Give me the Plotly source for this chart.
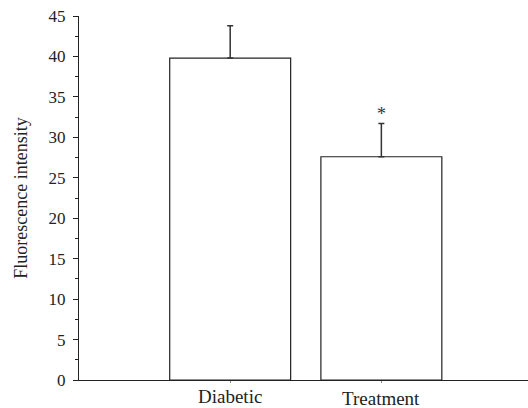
import plotly.graph_objects as go

categories = ["Diabetic", "Treatment"]
values = [39.8, 27.6]
errors = [4.0, 4.1]
sig_marks = ["", "*"]

FONT = "Liberation Serif"
xpos = list(range(len(categories)))

fig = go.Figure()
fig.add_trace(go.Bar(
    x=xpos, y=values, width=0.8,
    marker=dict(color="white", line=dict(color="#222222", width=1.2)),
    error_y=dict(type="data", array=errors, arrayminus=[0]*len(errors),
                 symmetric=False, color="#333333", thickness=1.5, width=3),
    showlegend=False,
))

for i, (c, v, e, s) in enumerate(zip(categories, values, errors, sig_marks)):
    fig.add_annotation(x=i, y=0, xref="x", yref="y", text=c, showarrow=False,
                       yanchor="top", yshift=-(4 + 2*i),
                       font=dict(family=FONT, size=19, color="#222222"))
    if s:
        fig.add_annotation(x=i, y=v + e, text=s, showarrow=False,
                           yanchor="bottom", yshift=-2,
                           font=dict(family=FONT, size=18, color="#333333"))

fig.update_layout(
    width=528, height=408,
    margin=dict(l=79, r=0, t=16, b=28),
    paper_bgcolor="white", plot_bgcolor="white",
    font=dict(family=FONT, size=16, color="#222222"),
    xaxis=dict(range=[-1.0, 1.97], showticklabels=False, showgrid=False,
               zeroline=False, showline=True, linecolor="#222222", linewidth=1.2,
               tickmode="array", tickvals=xpos, ticks="outside", ticklen=2,
               tickcolor="#888888"),
    yaxis=dict(range=[0, 45], tickmode="linear", tick0=0, dtick=5,
               showgrid=False, zeroline=False, showline=True,
               linecolor="#222222", linewidth=1.2,
               ticks="outside", ticklen=5, tickcolor="#222222",
               minor=dict(dtick=2.5, ticks="outside", ticklen=3, tickcolor="#222222"),
               title=dict(text="Fluorescence intensity", font=dict(size=18), standoff=16),
               tickfont=dict(size=17), ticklabelstandoff=4),
)

fig.write_html("out.html", config={"displayModeBar": False},
               post_script="document.body.style.margin='0';document.body.style.padding='0';")
